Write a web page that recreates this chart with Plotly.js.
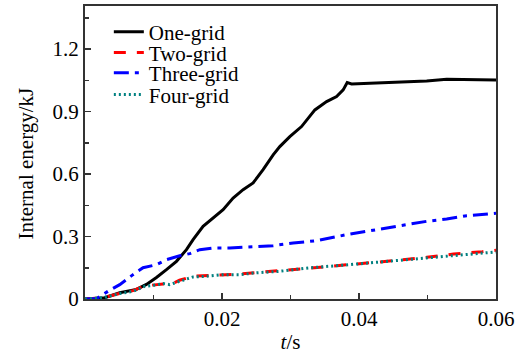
<!DOCTYPE html>
<html>
<head>
<meta charset="utf-8">
<script src="https://cdn.plot.ly/plotly-3.0.1.min.js"></script>
<style>html,body{margin:0;padding:0;background:#fff;}#chart{width:516px;height:354px;}</style>
</head>
<body>
<div id="chart"></div>
<script>
// Time (s) and internal energy (kJ) for each grid count
var oneT = [0, 0.00288, 0.00507, 0.00751, 0.00897, 0.01043, 0.01189, 0.01335, 0.01481, 0.01578, 0.01724, 0.01870, 0.02016, 0.02162, 0.02308, 0.02454, 0.02600, 0.02747, 0.02844, 0.02990, 0.03161, 0.03356, 0.03527, 0.03673, 0.03769, 0.03828, 0.03892, 0.04159, 0.04500, 0.04988, 0.05280, 0.05718, 0.06];
var oneE = [0, 0.006, 0.030, 0.046, 0.070, 0.103, 0.141, 0.181, 0.237, 0.285, 0.349, 0.389, 0.429, 0.485, 0.525, 0.557, 0.621, 0.692, 0.732, 0.780, 0.828, 0.908, 0.948, 0.972, 1.004, 1.039, 1.033, 1.036, 1.041, 1.047, 1.055, 1.052, 1.052];

var twoT = [0, 0.00263, 0.00507, 0.00701, 0.00872, 0.0100, 0.0114, 0.0125, 0.0138, 0.0158, 0.0177, 0.0202, 0.0226, 0.0254, 0.0289, 0.0329, 0.0371, 0.0416, 0.0458, 0.0499, 0.0538, 0.0580, 0.06];
var twoE = [0, 0.006, 0.027, 0.040, 0.063, 0.068, 0.072, 0.070, 0.090, 0.110, 0.112, 0.118, 0.120, 0.128, 0.139, 0.148, 0.161, 0.173, 0.186, 0.200, 0.216, 0.227, 0.234];

var threeT = [0, 0.00171, 0.00336, 0.00507, 0.00701, 0.00847, 0.01043, 0.01189, 0.01383, 0.01530, 0.01676, 0.01870, 0.02114, 0.02358, 0.02747, 0.03039, 0.03380, 0.03819, 0.04257, 0.04646, 0.04988, 0.05280, 0.05572, 0.06];
var threeE = [0, 0.002, 0.037, 0.069, 0.117, 0.150, 0.165, 0.189, 0.208, 0.218, 0.237, 0.245, 0.245, 0.250, 0.256, 0.269, 0.280, 0.309, 0.333, 0.357, 0.373, 0.384, 0.400, 0.412];

var fourT = [0, 0.00263, 0.00507, 0.00701, 0.00872, 0.00993, 0.01140, 0.01237, 0.01383, 0.01578, 0.01774, 0.02016, 0.02260, 0.02504, 0.02844, 0.03283, 0.03721, 0.04159, 0.04597, 0.05035, 0.05474, 0.05960, 0.06];
var fourE = [0, 0.006, 0.026, 0.037, 0.061, 0.065, 0.074, 0.069, 0.085, 0.106, 0.109, 0.117, 0.117, 0.126, 0.133, 0.150, 0.161, 0.173, 0.184, 0.197, 0.208, 0.224, 0.226];

var seriesNames = ["One-grid", "Two-grid", "Three-grid", "Four-grid"];
var xTicks = [0.02, 0.04, 0.06];
var xTickText = ["0.02", "0.04", "0.06"];
var yTicks = [0, 0.3, 0.6, 0.9, 1.2];
var yTickText = ["0", "0.3", "0.6", "0.9", "1.2"];
var xTitle = "<i>t</i>/s";
var yTitle = "Internal energy/kJ";

var serif = "Liberation Serif, Times New Roman, serif";
var FS = 21;

var traces = [
  {x: oneT, y: oneE, name: seriesNames[0], legend: "legend", mode: "lines", line: {color: "#000000", width: 3, dash: "solid"}},
  {x: twoT, y: twoE, name: seriesNames[1], legend: "legend2", mode: "lines", line: {color: "#ff0000", width: 3, dash: "12px,11px"}},
  {x: threeT, y: threeE, name: seriesNames[2], legend: "legend3", mode: "lines", line: {color: "#0000ff", width: 3, dash: "15px,6px,4px,6px"}},
  {x: fourT, y: fourE, name: seriesNames[3], legend: "legend4", mode: "lines", line: {color: "#008080", width: 3, dash: "2px,3px"}}
];

function leg(y) {
  return {x: 0.058, y: y, xanchor: "left", yanchor: "middle", bgcolor: "rgba(0,0,0,0)", borderwidth: 0,
          font: {family: serif, size: FS, color: "#000"}, tracegroupgap: 0};
}

var layout = {
  width: 516, height: 354,
  margin: {l: 85, r: 20, t: 6, b: 55, pad: 0},
  paper_bgcolor: "#fff", plot_bgcolor: "#fff",
  font: {family: serif, size: FS, color: "#000"},
  showlegend: true,
  legend: leg(0.911),
  legend2: leg(0.840),
  legend3: leg(0.771),
  legend4: leg(0.697),
  xaxis: {
    range: [0, 0.06], tickvals: xTicks, ticktext: xTickText,
    ticks: "inside", ticklen: 6, tickwidth: 1.5, tickcolor: "#333",
    minor: {dtick: 0.01, tick0: 0, ticks: "inside", ticklen: 4, tickwidth: 1.5, tickcolor: "#333"},
    showline: true, linecolor: "#333", linewidth: 2, mirror: true,
    showgrid: false, zeroline: false,
    tickfont: {family: serif, size: FS},
    title: {text: xTitle, font: {family: serif, size: FS}, standoff: 6}
  },
  yaxis: {
    range: [0, 1.407], tickvals: yTicks, ticktext: yTickText,
    ticks: "inside", ticklen: 6, tickwidth: 1.5, tickcolor: "#333",
    minor: {dtick: 0.15, tick0: 0, ticks: "inside", ticklen: 4, tickwidth: 1.5, tickcolor: "#333"},
    showline: true, linecolor: "#333", linewidth: 2, mirror: true,
    showgrid: false, zeroline: false,
    tickfont: {family: serif, size: FS}
  },
  annotations: [
    {text: yTitle, xref: "paper", yref: "paper", x: -0.144, y: 0.4617, xanchor: "center", yanchor: "middle",
     textangle: -90, showarrow: false, font: {family: serif, size: FS, color: "#000"}}
  ]
};

Plotly.newPlot("chart", traces, layout, {displayModeBar: false, staticPlot: true});
</script>
</body>
</html>
